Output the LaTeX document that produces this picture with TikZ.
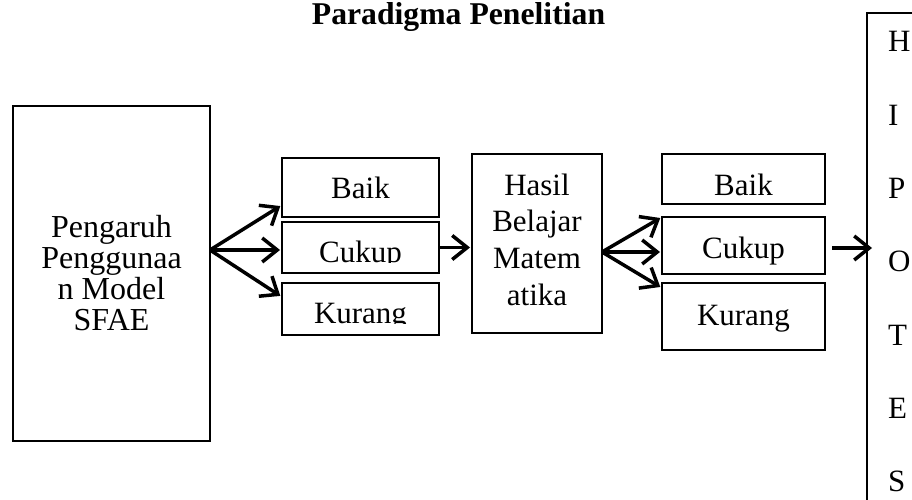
\documentclass[tikz,border=0pt]{standalone}
\usepackage{fontspec}
\setmainfont{Liberation Serif}
\usetikzlibrary{positioning,arrows.meta}

\begin{document}
\begin{tikzpicture}[x=1pt,y=-1pt]
    \tikzstyle{every node}=[inner sep=0pt, outer sep=0pt, font=\fontsize{31}{37}\selectfont]
    \tikzstyle{box}=[draw, line width=2pt]
    \tikzstyle{arr}=[-{Straight Barb[length=15pt,width=24pt]}, line width=3.5pt, shorten >=2pt]

    \clip (0,0) rectangle (912,500);

    \node (judul) [anchor=base, font=\fontsize{31.7}{38}\selectfont\bfseries] at (458.5,25) {Paradigma Penelitian};

    % kiri
    \node (pengaruh) [box, minimum width=197pt, minimum height=335pt, align=center,
        font=\fontsize{32}{31}\selectfont] at (111.5,273.5) {Pengaruh\\Penggunaa\\n Model\\SFAE};

    % kolom pertama
    \node (baik1)   [box, minimum width=157pt, minimum height=59pt] at (360.5,187.5) {};
    \node (cukup1)  [box, minimum width=157pt, minimum height=51pt, below=5pt of baik1] {};
    \node (kurang1) [box, minimum width=157pt, minimum height=52pt, below=10pt of cukup1] {};

    \node (baik1 txt) [anchor=base] at ([yshift=-10.5pt]baik1.center) {Baik};
    \begin{scope}
        \clip (cukup1.north west) rectangle ([yshift=10.5pt]cukup1.south east);
        \node (cukup1 txt) [anchor=base] at ([yshift=-14.5pt]cukup1.center) {Cukup};
    \end{scope}
    \begin{scope}
        \clip (kurang1.north west) rectangle ([yshift=11.5pt]kurang1.south east);
        \node (kurang1 txt) [anchor=base] at ([yshift=-14pt]kurang1.center) {Kurang};
    \end{scope}

    % tengah
    \node (hasil) [box, minimum width=130pt, minimum height=179pt] at (537,243.5) {};
    \node (hasil txt) [align=center, font=\fontsize{31}{36.7}\selectfont]
        at ([yshift=4pt]hasil.center) {Hasil\\Belajar\\Matem\\atika};

    % kolom kedua
    \node (baik2)   [box, minimum width=163pt, minimum height=50pt] at (743.5,179) {};
    \node (cukup2)  [box, minimum width=163pt, minimum height=57pt, below=13pt of baik2] {};
    \node (kurang2) [box, minimum width=163pt, minimum height=67pt, below=9pt of cukup2] {};

    \node (baik2 txt)   [anchor=base] at ([yshift=-16pt]baik2.center) {Baik};
    \node (cukup2 txt)  [anchor=base] at ([yshift=-12.5pt]cukup2.center) {Cukup};
    \node (kurang2 txt) [anchor=base] at ([yshift=-8.5pt]kurang2.center) {Kurang};

    % hipotesis
    \node (hipo) [box, anchor=north west, minimum width=70pt, minimum height=510pt] at (867,13) {};
    \foreach \huruf [count=\i from 0] in {H,I,P,O,T,E,S}
        \node (h\i) [anchor=base west] at (888,52+73.3*\i) {\huruf};

    % panah
    \coordinate (fan1) at ([yshift=23.5pt]pengaruh.east);
    \draw[arr] (fan1) -- ([yshift=12pt]baik1.south west);
    \draw[arr] (fan1) -- (fan1 -| cukup1.west);
    \draw[arr] (fan1) -- ([yshift=-14pt]kurang1.north west);

    \draw[arr] (cukup1.east) -- (cukup1.east -| hasil.west);

    \coordinate (fan2) at ([yshift=-8.5pt]hasil.east);
    \draw[arr] (fan2) -- (cukup2.north west);
    \draw[arr] (fan2) -- (fan2 -| cukup2.west);
    \draw[arr] (fan2) -- ([yshift=-5pt]kurang2.north west);

    \draw[arr] ([shift={(7pt,-2.5pt)}]cukup2.east) -- ([shift={(7pt,-2.5pt)}]cukup2.east -| hipo.west);
\end{tikzpicture}
\end{document}
